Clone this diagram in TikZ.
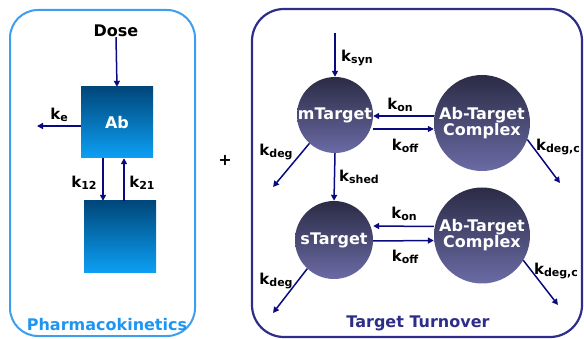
\documentclass[tikz,border=0pt]{standalone}
\usepackage{fontspec}
\setmainfont{DejaVu Sans}
\usetikzlibrary{arrows.meta}
\definecolor{pkblue}{HTML}{3D9EF0}
\definecolor{pktext}{HTML}{1E96F0}
\definecolor{navybox}{HTML}{2E2E8A}
\definecolor{arrcol}{HTML}{0A0A80}
\definecolor{sqtop}{HTML}{00477A}
\definecolor{sqbot}{HTML}{0CA0F5}
\definecolor{ctop}{HTML}{2B2B45}
\definecolor{cbot}{HTML}{6B6BA6}
\newcommand{\kk}[1]{k\raisebox{-0.3ex}{\fontsize{11}{11}\selectfont #1}}
\tikzset{
  txt/.style={font=\fontsize{16}{18}\selectfont\bfseries, inner sep=0pt},
  klabel/.style={font=\fontsize{15}{17}\selectfont\bfseries, inner sep=0pt, text=black},
  sqbox/.style={rectangle, minimum width=72pt, minimum height=71pt, inner sep=0pt,
    top color=sqtop, bottom color=sqbot, text=white, font=\fontsize{16}{18}\selectfont\bfseries},
  blob/.style={circle, inner sep=0pt, top color=ctop, bottom color=cbot, text=white,
    font=\fontsize{16}{18}\selectfont\bfseries, align=center},
  flow/.style={arrcol, line width=1.5pt, -{Triangle[length=6pt,width=6pt]}},
}
\begin{document}
\begin{tikzpicture}[x=1pt,y=-1pt]
\useasboundingbox (0,0) rectangle (584,339);
% frames
\draw[pkblue, line width=2pt, rounded corners=28pt] (10,10) rectangle (195,336);
\draw[navybox, line width=2.2pt, rounded corners=32pt] (252,9) rectangle (582,337);
\node[txt, text=pktext] (pk) at (107,325) {Pharmacokinetics};
\node[txt, text=navybox] (tt) at (418,323) {Target Turnover};
\node[txt] (plus) at (225,160) {+};
% PK part
\node[txt] (dose) at (116,31) {Dose};
\node[sqbox] (ab) at (117,122.5) {Ab};
\node[sqbox, minimum height=72pt] (per) at (120,237) {};
\coordinate (keend) at (37,126);
\draw[flow] (dose.south) -- (ab.north);
\draw[flow] ([yshift=-3.5pt]ab.west) -- (keend);
\draw[flow] ([xshift=-14pt]ab.south) -- ([xshift=-17pt]per.north);
\draw[flow] ([xshift=4pt]per.north) -- ([xshift=7pt]ab.south);
\node[klabel] (ke) at (59,115) {\kk{e}};
\node[klabel] (k12) at (84,183) {\kk{12}};
\node[klabel] (k21) at (142,183) {\kk{21}};
% Target turnover
\node[blob, minimum size=76pt] (mt) at (335,115) {mTarget};
\node[blob, minimum size=96pt] (c1) at (482,123) {Ab-Target\\[-2pt]Complex};
\node[blob, minimum size=78pt] (st) at (334,240) {sTarget};
\node[blob, minimum size=96pt] (c2) at (482,235.5) {Ab-Target\\[-2pt]Complex};
\coordinate (synstart) at (335,33);
\coordinate (deg1) at (273,187);
\coordinate (degc1) at (560,183);
\coordinate (deg2) at (273,313);
\coordinate (degc2) at (558,305);
\draw[flow] (synstart) -- (mt.north);
\draw[flow] ([yshift=7pt]c1.west) -- ([yshift=-1pt]mt.east);
\draw[flow] ([yshift=-14pt]mt.east) -- ([yshift=-6pt]c1.west);
\draw[flow] (mt.228) -- (deg1);
\draw[flow] (c1.-20) -- (degc1);
\draw[flow] (mt.south) -- (st.north);
\draw[flow] ([yshift=9pt]c2.west) -- ([yshift=14pt]st.east);
\draw[flow] ([yshift=-1pt]st.east) -- ([yshift=-5pt]c2.west);
\draw[flow] (st.227) -- (deg2);
\draw[flow] (c2.-31) -- (degc2);
\node[klabel] (ksyn) at (357,58) {\kk{syn}};
\node[klabel] (kon1) at (400,105) {\kk{on}};
\node[klabel] (koff1) at (405,146) {\kk{off}};
\node[klabel] (kdeg1) at (276,152) {\kk{deg}};
\node[klabel] (kdegc1) at (558,147) {\kk{deg,c}};
\node[klabel] (kshed) at (359,177) {\kk{shed}};
\node[klabel] (kon2) at (404,214) {\kk{on}};
\node[klabel] (koff2) at (405,257) {\kk{off}};
\node[klabel] (kdeg2) at (276,281) {\kk{deg}};
\node[klabel] (kdegc2) at (556,271) {\kk{deg,c}};
\end{tikzpicture}
\end{document}
